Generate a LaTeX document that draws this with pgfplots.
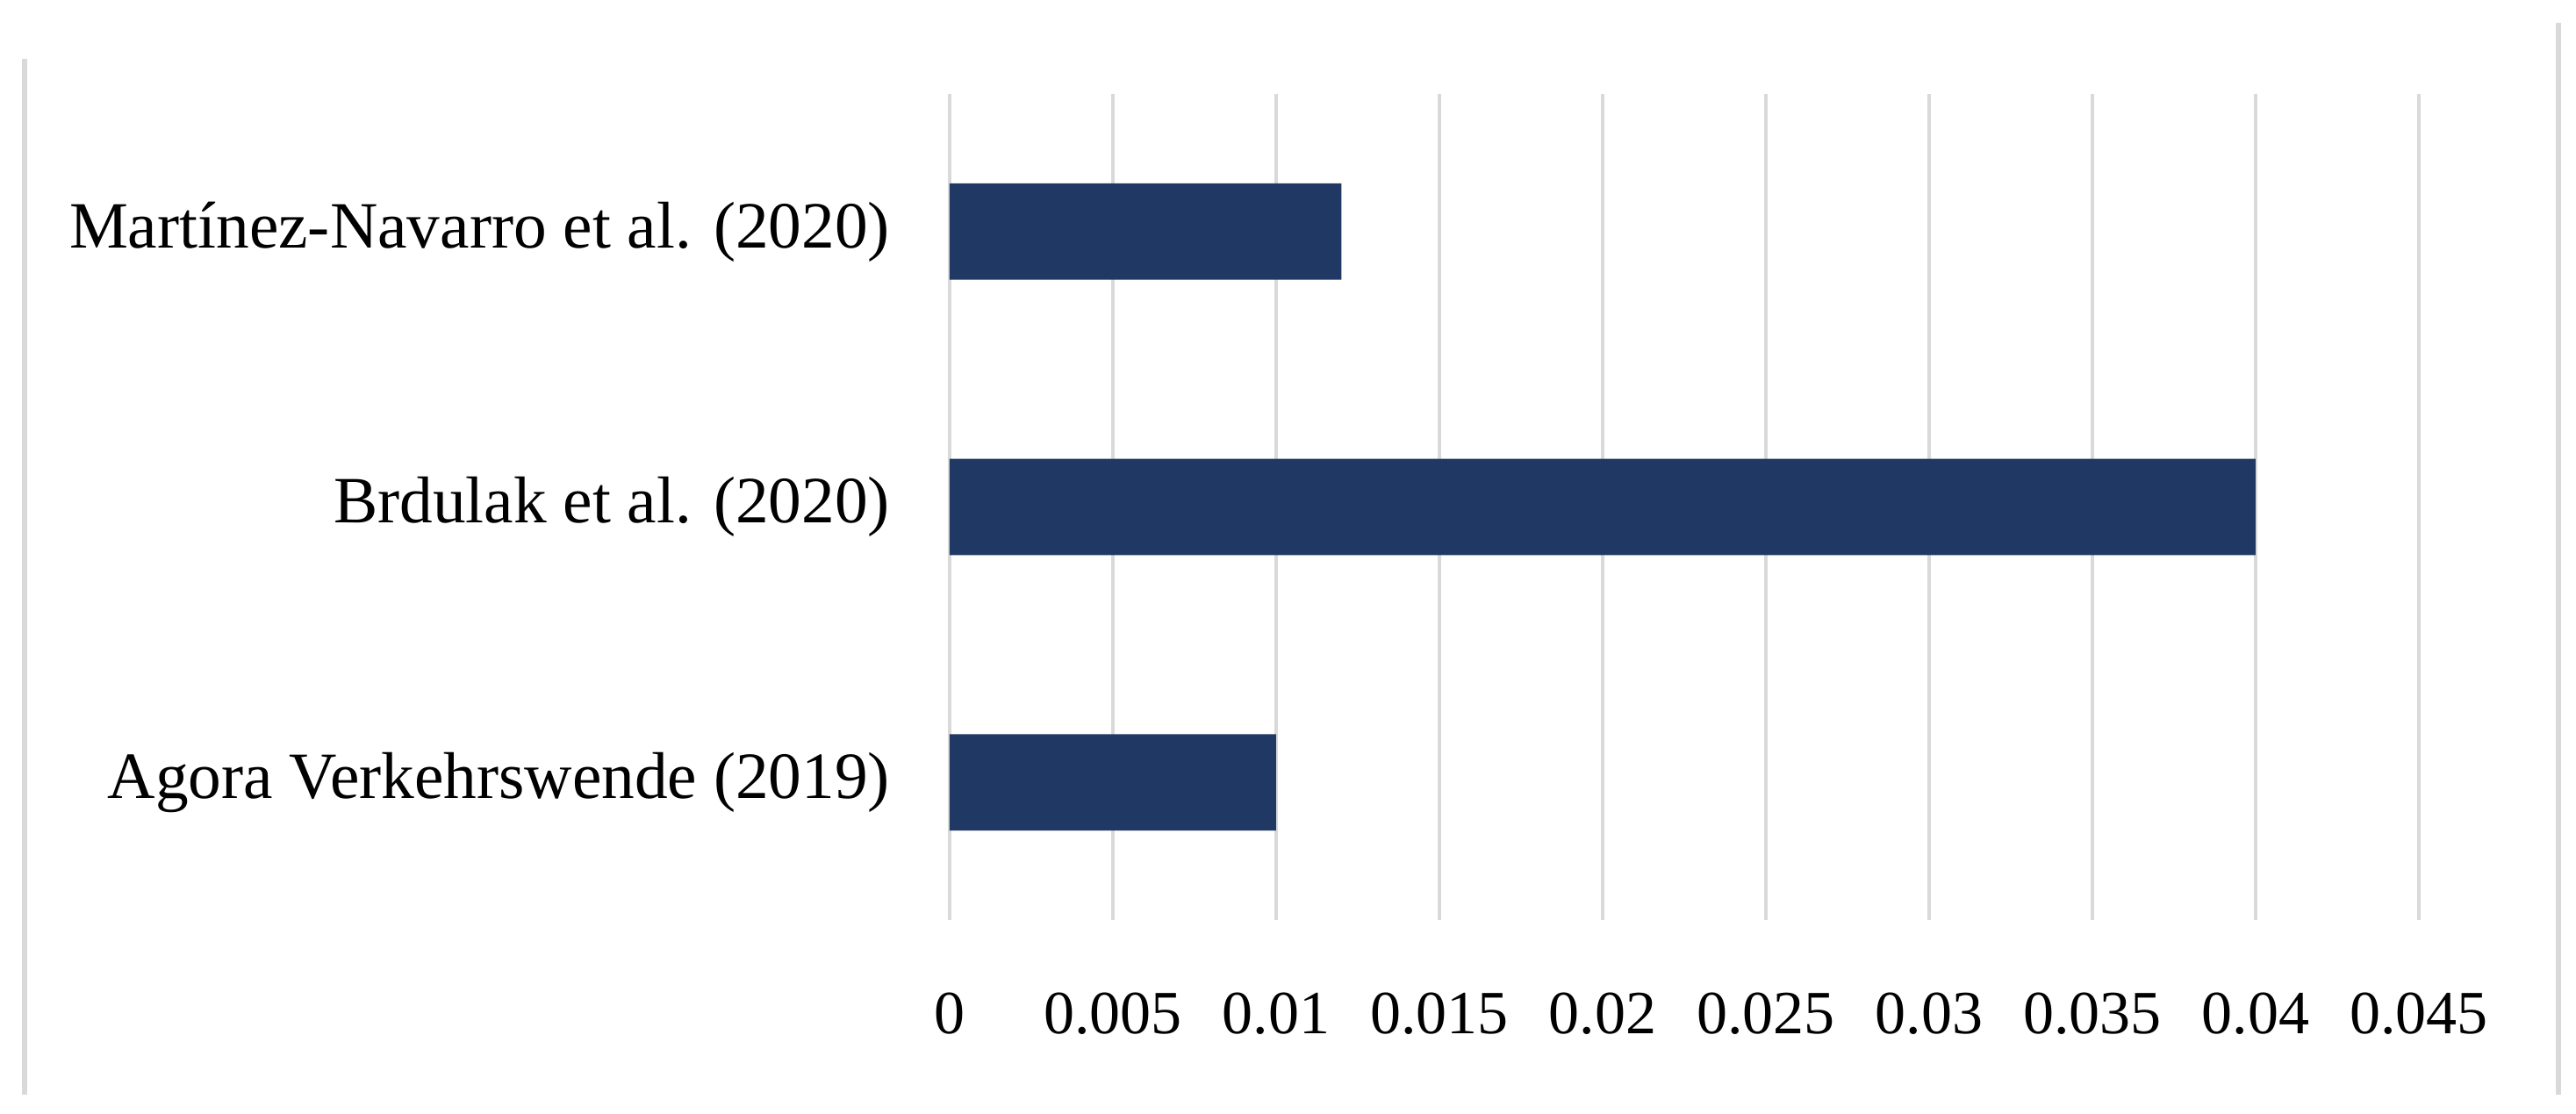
\documentclass[border=0pt]{standalone}
\usepackage{fontspec}
\setmainfont{Liberation Serif}
\usepackage{pgfplots}
\pgfplotsset{compat=1.18}
\definecolor{barblue}{RGB}{32,56,100}
\definecolor{gridgray}{RGB}{217,217,217}
\begin{document}
\begin{tikzpicture}
\begin{axis}[
  xbar,
  scale only axis,
  width=251.1pt, height=141.15pt,
  xmin=0, xmax=0.045, ymin=-0.5, ymax=2.5,
  xtick={0,0.005,0.01,0.015,0.02,0.025,0.03,0.035,0.04,0.045},
  xticklabels={0,0.005,0.01,0.015,0.02,0.025,0.03,0.035,0.04,0.045},
  ytick={0,1,2},
  yticklabels={Agora Verkehrswende (2019),Brdulak et al. (2020),Martínez-Navarro et al. (2020)},
  xmajorgrids,
  major grid style={gridgray, line width=0.6pt},
  axis line style={draw=none},
  major tick length=0pt,
  bar width=0.35,
  xticklabel style={font=\fontsize{10.5}{12}\selectfont, anchor=center, inner sep=0pt, yshift=-16pt},
  yticklabel style={font=\fontsize{11.3}{13}\selectfont, anchor=east, inner sep=0pt, xshift=-10pt},
]
\addplot[fill=barblue, draw=none] coordinates {(0.01,0) (0.04,1) (0.012,2)};
\end{axis}
\draw[gridgray, line width=0.9pt] (-158.1pt,147.15pt) -- (-158.1pt,-29.85pt);
\draw[gridgray, line width=0.9pt] (274.95pt,153.3pt) -- (274.95pt,-29.85pt);
\pgfresetboundingbox
\useasboundingbox (-162.3pt,-33.15pt) rectangle (277.95pt,157.2pt);
\end{tikzpicture}
\end{document}
